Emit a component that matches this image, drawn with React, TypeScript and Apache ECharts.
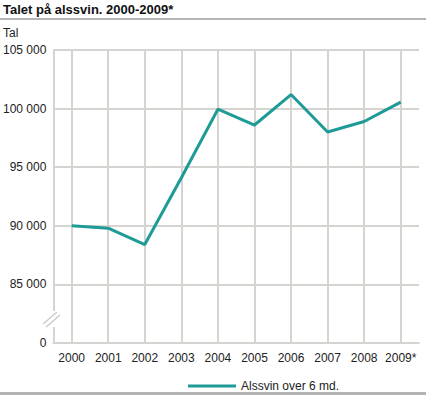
import React, { useEffect, useRef } from "react";
import * as echarts from "echarts";

const categories = ["2000", "2001", "2002", "2003", "2004", "2005", "2006", "2007", "2008", "2009*"];
const alssvin = [90000, 89800, 88400, 94100, 99950, 98600, 101200, 98000, 98900, 100550];
const seriesName = "Alssvin over 6 md.";
const title = "Talet på alssvin. 2000-2009*";
const unitLabel = "Tal";
const axisMin = 80000;
const axisMax = 105000;
const axisStep = 5000;

const FONT = "'Liberation Sans', Arial, sans-serif";
const GRID = "#d6d4d0";
const TEAL = "#1e9b96";

function fmt(v: number): string {
  if (v === axisMin) return "0";
  const s = String(Math.round(v));
  return s.replace(/\B(?=(\d{3})+(?!\d))/g, " ");
}

export default function App() {
  const ref = useRef<HTMLDivElement>(null);
  useEffect(() => {
    if (!ref.current) return;
    const chart = echarts.init(ref.current, null, { renderer: "svg" });
    chart.setOption({
      animation: false,
      backgroundColor: "#ffffff",
      textStyle: { fontFamily: FONT },
      grid: { left: 51, right: 7, top: 50, bottom: 52, containLabel: false },
      xAxis: {
        type: "category",
        data: categories,
        boundaryGap: true,
        axisLine: { show: true, lineStyle: { color: GRID, width: 2 } },
        axisTick: { show: false },
        axisLabel: { color: "#222", fontSize: 12, fontFamily: FONT, margin: 9, interval: 0 },
        splitLine: { show: true, alignWithLabel: true, lineStyle: { color: GRID, width: 2 } },
      },
      yAxis: {
        type: "value",
        min: axisMin,
        max: axisMax,
        interval: axisStep,
        axisLine: { show: true, lineStyle: { color: GRID, width: 2 } },
        axisTick: { show: false },
        axisLabel: { color: "#222", fontSize: 12, fontFamily: FONT, margin: 7, formatter: fmt },
        splitLine: { show: true, lineStyle: { color: GRID, width: 2 } },
      },
      legend: {
        show: true,
        left: 183,
        top: 375,
        itemWidth: 48,
        itemHeight: 14,
        itemGap: 10,
        icon: "path://M0,6 L48,6 L48,9 L0,9 Z",
        textStyle: { color: "#222", fontSize: 12, fontFamily: FONT },
        data: [{ name: seriesName }],
      },
      series: [
        {
          name: seriesName,
          type: "line",
          data: alssvin,
          symbol: "none",
          lineStyle: { color: TEAL, width: 3 },
          itemStyle: { color: TEAL },
          z: 5,
        },
      ],
      graphic: [
        {
          type: "text",
          left: 3,
          top: 3,
          style: { text: title, font: `bold 13px ${FONT}`, fill: "#111" },
        },
        {
          type: "rect",
          shape: { x: 0, y: 18, width: 426, height: 2 },
          style: { fill: "#b4b4b4" },
        },
        {
          type: "text",
          left: 3,
          top: 27,
          style: { text: unitLabel, font: `12px ${FONT}`, fill: "#222" },
        },
        {
          type: "rect",
          shape: { x: 48, y: 311, width: 8, height: 16 },
          style: { fill: "#ffffff" },
          z: 100,
        },
        {
          type: "line",
          shape: { x1: 43, y1: 324, x2: 57, y2: 312 },
          style: { stroke: "#c8c8c8", lineWidth: 1.2 },
          z: 101,
        },
        {
          type: "line",
          shape: { x1: 46, y1: 327, x2: 60, y2: 315 },
          style: { stroke: "#c8c8c8", lineWidth: 1.2 },
          z: 101,
        },
        {
          type: "rect",
          shape: { x: 0, y: 392, width: 426, height: 3 },
          style: { fill: "#b4b4b4" },
        },
      ],
    });
    return () => chart.dispose();
  }, []);
  return (
    <div
      ref={ref}
      style={{ position: "absolute", left: 0, top: 0, width: 426, height: 395 }}
    />
  );
}
